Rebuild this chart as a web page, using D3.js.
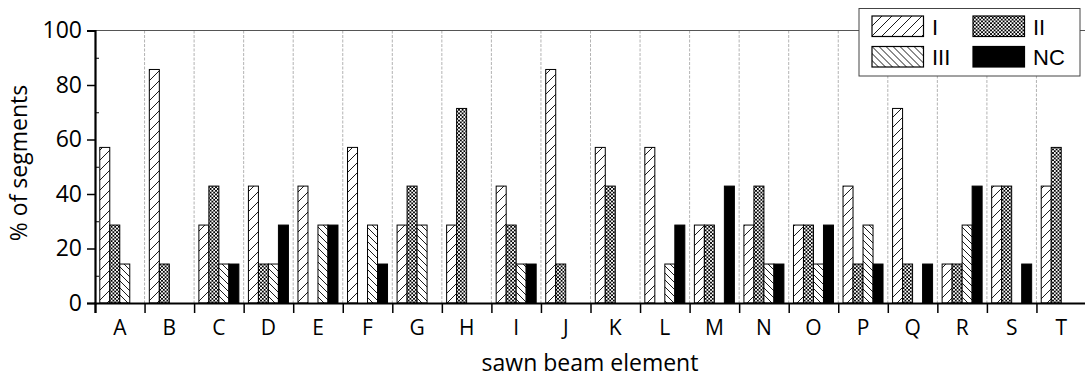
<!DOCTYPE html>
<html>
<head>
<meta charset="utf-8">
<script src="https://cdn.jsdelivr.net/npm/d3@7"></script>
<style>
  html, body { margin: 0; padding: 0; background: #fff; }
  svg { display: block; }
  .axis-font { font-family: "Open Sans", sans-serif; }
</style>
</head>
<body>
<svg id="chart" width="1085" height="377"></svg>
<script>
// Sawn beam elements and the share of segments in each class (%)
const categories = ["A","B","C","D","E","F","G","H","I","J","K","L","M","N","O","P","Q","R","S","T"];
const seriesNames = ["I", "II", "III", "NC"];
const valuesI   = [57.1, 85.7, 28.6, 42.9, 42.9, 57.1, 28.6, 28.6, 42.9, 85.7, 57.1, 57.1, 28.6, 28.6, 28.6, 42.9, 71.4, 14.3, 42.9, 42.9];
const valuesII  = [28.6, 14.3, 42.9, 14.3, 0,    0,    42.9, 71.4, 28.6, 14.3, 42.9, 0,    28.6, 42.9, 28.6, 14.3, 14.3, 14.3, 42.9, 57.1];
const valuesIII = [14.3, 0,    14.3, 14.3, 28.6, 28.6, 28.6, 0,    14.3, 0,    0,    14.3, 0,    14.3, 14.3, 28.6, 0,    28.6, 0,    0];
const valuesNC  = [0,    0,    14.3, 28.6, 28.6, 14.3, 0,    0,    14.3, 0,    0,    28.6, 42.9, 14.3, 28.6, 14.3, 14.3, 42.9, 14.3, 0];
const yTicks = [0, 20, 40, 60, 80, 100];
const yMinorTicks = [10, 30, 50, 70, 90];

const seriesValues = { "I": valuesI, "II": valuesII, "III": valuesIII, "NC": valuesNC };

const svg = d3.select("#chart");
const plotLeft = 95, plotTop = 30.5, plotBottom = 303, plotRight = 1086;

// Hatch fills for the three classes; NC is solid black
const defs = svg.append("defs");
function hatch(id, spacing, dir, sw) {
  const p = defs.append("pattern").attr("id", id)
    .attr("patternUnits", "userSpaceOnUse")
    .attr("width", spacing).attr("height", spacing);
  p.append("rect").attr("width", spacing).attr("height", spacing).attr("fill", "#fff");
  const s = spacing;
  const d = dir === "/"
    ? `M0,${s} L${s},0 M${-s/2},${s/2} L${s/2},${-s/2} M${s/2},${s*1.5} L${s*1.5},${s/2}`
    : `M0,0 L${s},${s} M${-s/2},${s/2} L${s/2},${s*1.5} M${s/2},${-s/2} L${s*1.5},${s/2}`;
  p.append("path").attr("d", d).attr("stroke", "#000").attr("stroke-width", sw);
}
hatch("pat-I", 10, "/", 0.9);
hatch("pat-III", 7, "\\", 0.9);
(function crossHatch() {
  const s = 3.6;
  const p = defs.append("pattern").attr("id", "pat-II")
    .attr("patternUnits", "userSpaceOnUse").attr("width", s).attr("height", s);
  p.append("rect").attr("width", s).attr("height", s).attr("fill", "#fff");
  p.append("path").attr("d", `M0,0 L${s},${s} M0,${s} L${s},0`)
    .attr("stroke", "#000").attr("stroke-width", 0.9);
})();
const fills = { "I": "url(#pat-I)", "II": "url(#pat-II)", "III": "url(#pat-III)", "NC": "#000" };

// Scales
const x = d3.scaleBand().domain(categories).range([plotLeft, plotRight]).padding(0);
const xEdge = d3.scaleLinear().domain([0, categories.length]).range([plotLeft, plotRight]);
const xInner = d3.scaleBand().domain(seriesNames).range([0, x.bandwidth()])
  .paddingInner(0).paddingOuter(0.4775);
const y = d3.scaleLinear().domain([0, 100]).range([plotBottom, plotTop]);

// Dashed separators between elements
svg.append("g").selectAll("line")
  .data(d3.range(1, categories.length))
  .join("line")
  .attr("x1", d => xEdge(d)).attr("x2", d => xEdge(d))
  .attr("y1", plotTop).attr("y2", plotBottom)
  .attr("stroke", "#a0a0a0").attr("stroke-width", 0.8)
  .attr("stroke-dasharray", "3,1.5");

// Top frame line
svg.append("line").attr("x1", plotLeft).attr("x2", plotRight).attr("y1", plotTop).attr("y2", plotTop)
  .attr("stroke", "#555").attr("stroke-width", 1.2);

// Bars
const rows = [];
categories.forEach((c, i) => seriesNames.forEach(s => rows.push({ cat: c, series: s, value: seriesValues[s][i] })));
svg.append("g").selectAll("rect")
  .data(rows.filter(d => d.value > 0))
  .join("rect")
  .attr("x", d => x(d.cat) + xInner(d.series))
  .attr("y", d => y(d.value))
  .attr("width", xInner.bandwidth())
  .attr("height", d => y(0) - y(d.value))
  .attr("fill", d => fills[d.series])
  .attr("stroke", "#000").attr("stroke-width", 1);

// Y axis
const yAxis = svg.append("g").attr("transform", `translate(${plotLeft},0)`)
  .call(d3.axisLeft(y).tickValues(yTicks).tickSize(8).tickPadding(5));
yAxis.select(".domain").attr("stroke-width", 2.2);
yAxis.selectAll(".tick line").attr("stroke-width", 1.5);
yAxis.selectAll("text").attr("class", "axis-font").attr("font-size", 23).attr("fill", "#000");
svg.append("g").attr("transform", `translate(${plotLeft},0)`)
  .call(d3.axisRight(y).tickValues(yMinorTicks).tickSize(4).tickFormat(""))
  .call(g => g.select(".domain").remove());

// X axis: boundary ticks and element labels
const xAxis = svg.append("g").attr("transform", `translate(0,${plotBottom})`)
  .call(d3.axisBottom(xEdge).tickValues(d3.range(0, categories.length + 1)).tickSize(10).tickFormat(""));
xAxis.select(".domain").attr("stroke-width", 2.2);
xAxis.selectAll(".tick line").attr("stroke-width", 1.5);
const xLabels = svg.append("g").attr("transform", `translate(0,${plotBottom})`)
  .call(d3.axisBottom(x).tickSize(0).tickPadding(17));
xLabels.select(".domain").remove();
xLabels.selectAll("text").attr("class", "axis-font").attr("font-size", 21).attr("fill", "#000");

// Axis titles
svg.append("text").attr("class", "axis-font")
  .attr("x", 590).attr("y", 371)
  .attr("text-anchor", "middle").attr("font-size", 23)
  .text("sawn beam element");
svg.append("text").attr("class", "axis-font")
  .attr("transform", "translate(27,163) rotate(-90)")
  .attr("text-anchor", "middle").attr("font-size", 23)
  .text("% of segments");

// Legend
const legend = svg.append("g").attr("font-family", "'Liberation Sans', Arial, sans-serif");
legend.append("rect").attr("x", 859).attr("y", 8.5).attr("width", 221).attr("height", 67.5)
  .attr("fill", "#fff").attr("stroke", "#444").attr("stroke-width", 1);
const legendPos = [
  { s: "I", x: 872, y: 16 }, { s: "II", x: 973, y: 16 },
  { s: "III", x: 872, y: 46.5 }, { s: "NC", x: 973, y: 46.5 }
];
const li = legend.selectAll("g.item").data(legendPos).join("g").attr("class", "item")
  .attr("transform", d => `translate(${d.x},${d.y})`);
li.append("rect").attr("width", 51.5).attr("height", 20.5)
  .attr("fill", d => fills[d.s]).attr("stroke", "#000").attr("stroke-width", 1.2);
li.append("text").attr("x", 60).attr("y", 18.5).attr("font-size", 22).text(d => d.s);
</script>
</body>
</html>
